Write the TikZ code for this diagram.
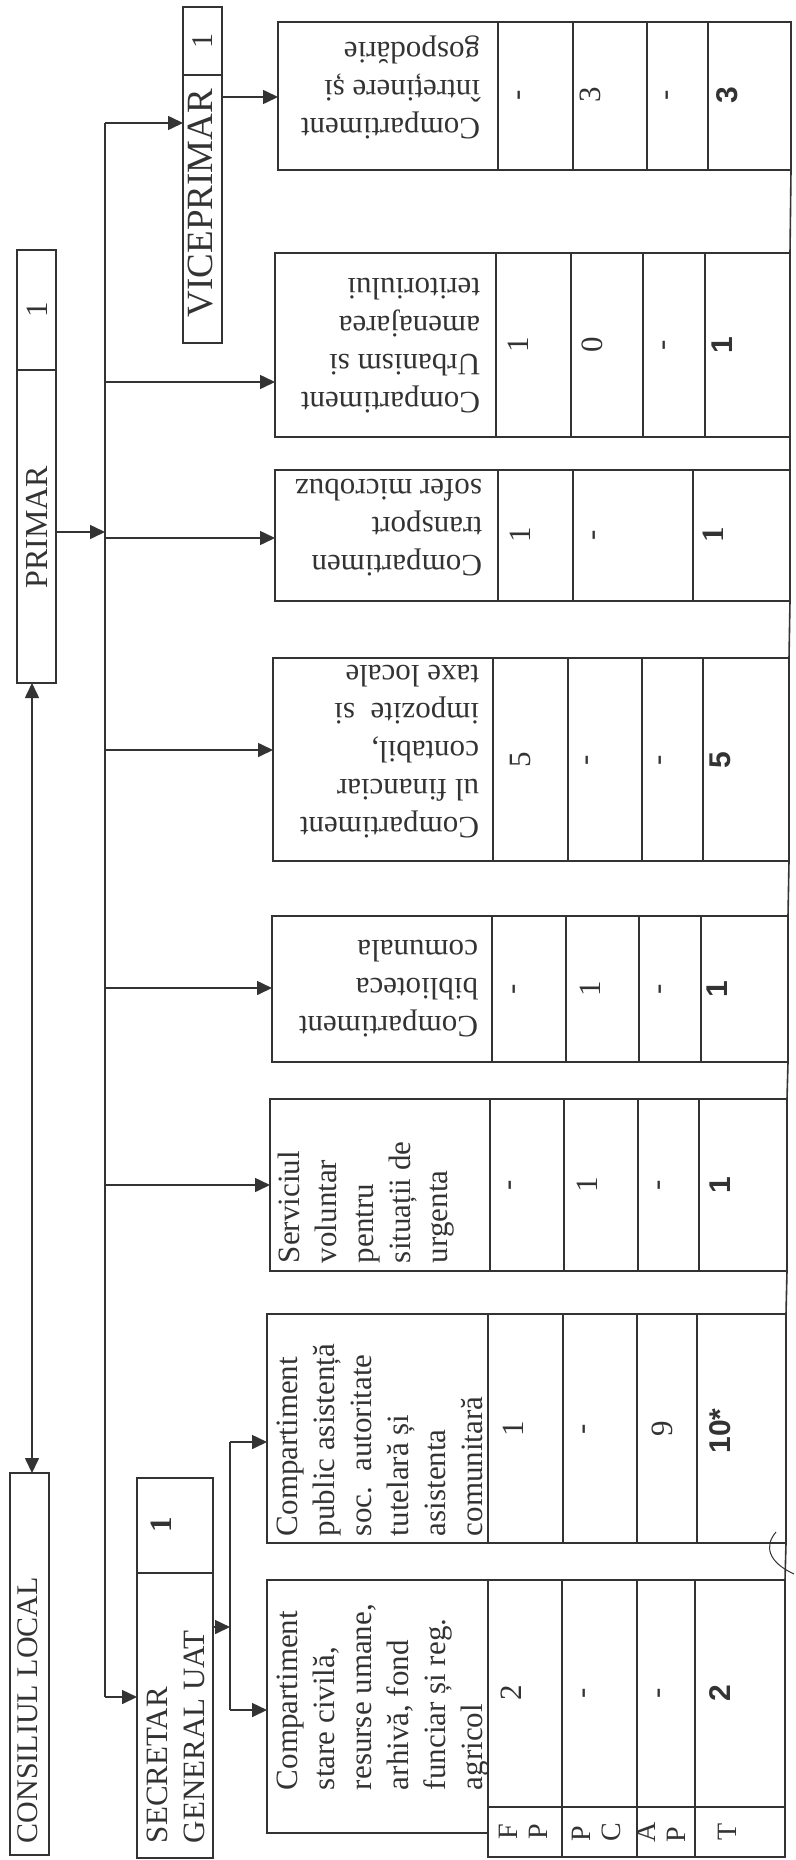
\documentclass[tikz,border=0pt]{standalone}
\usepackage{fontspec}
\setmainfont{Liberation Serif}
\newfontfamily\sansf{Liberation Sans}
\usetikzlibrary{arrows.meta,fit}
\definecolor{ink}{gray}{0.2}
\tikzset{
  ln/.style={draw=ink, line width=1.6pt},
  box/.style={draw=ink, line width=1.6pt, inner sep=0pt, outer sep=0pt},
  arr/.style={draw=ink, line width=1.6pt, -{Triangle[length=15pt,width=14pt]}},
  dblarr/.style={draw=ink, line width=1.6pt, {Triangle[length=15pt,width=14pt]}-{Triangle[length=15pt,width=14pt]}},
  vtxt/.style={rotate=90, anchor=north west, inner sep=0pt, outer sep=0pt, align=left, text=ink, font=\fontsize{31}{37}\selectfont},
  utxt/.style={rotate=180, anchor=north west, inner sep=0pt, outer sep=0pt, align=left, text=ink, font=\fontsize{31}{38}\selectfont},
  lbl/.style={rotate=90, inner sep=0pt, align=left, text=ink, font=\fontsize{28}{30}\selectfont},
  val/.style={rotate=90, inner sep=0pt, text=ink, font=\fontsize{31}{37}\selectfont},
  tot/.style={rotate=90, inner sep=0pt, text=ink, font=\sansf\bfseries\fontsize{30}{36}\selectfont},
}
\begin{document}
\begin{tikzpicture}[x=1pt,y=-1pt]
\fill[white] (0,0) rectangle (795,1860);
\useasboundingbox (0,0) rectangle (795,1860);

% ---------- top-level boxes ----------
\node[box, fit={(10,1473) (49,1855)}] (cl) {};
\node[vtxt, font=\fontsize{30}{36}\selectfont] (clt) at (18,1843) {CONSILIUL LOCAL};

\node[box, fit={(17,250) (56,683)}] (pm) {};
\coordinate (pmd) at (0,370);
\draw[ln] (pm.west |- pmd) -- (pm.east |- pmd);
\node[val] (pm1) at (37,310) {1};
\node[val, font=\fontsize{32}{38}\selectfont] (pmt) at (37,527) {PRIMAR};

\node[box, fit={(183,7) (222,343)}] (vp) {};
\coordinate (vpd) at (0,75);
\draw[ln] (vp.west |- vpd) -- (vp.east |- vpd);
\node[val, font=\fontsize{30}{36}\selectfont] (vp1) at (203,41) {1};
\node[val, font=\fontsize{37}{42}\selectfont] (vpt) at (201,203) {VICEPRIMAR};

\node[box, fit={(137,1478) (213,1858)}] (sg) {};
\coordinate (sgd) at (0,1573);
\draw[ln] (sg.west |- sgd) -- (sg.east |- sgd);
\node[val, font=\bfseries\fontsize{31}{37}\selectfont] (sg1) at (161,1525) {1};
\node[vtxt] (sgt) at (147,1843) {SECRETAR\\GENERAL UAT};

% ---------- band 8 : intretinere ----------
\node[box, fit={(278,22) (498,170)}] (h8) {};
\draw[ln] (498,22) rectangle (791,170);
\draw[ln] (573,22) -- (573,170) (647,22) -- (647,170) (708,22) -- (708,170);
\node[utxt] (t8) at (480,139) {Compartiment\\întreținere și\\gospodărie};
\node[val] (v8a) at (522,95) {-};
\node[val] (v8b) at (590,95) {3};
\node[val] (v8c) at (670,95) {-};
\node[tot] (v8d) at (727,95) {3};

% ---------- band 7 : urbanism ----------
\node[box, fit={(275,253) (496,437)}] (h7) {};
\draw[ln] (496,253) rectangle (790,437);
\draw[ln] (571,253) -- (571,437) (643,253) -- (643,437) (705,253) -- (705,437);
\node[utxt] (t7) at (480,413) {Compartiment\\Urbanism si\\amenajarea\\teritoriului};
\node[val] (v7a) at (518,345) {1};
\node[val] (v7b) at (592,345) {0};
\node[val] (v7c) at (667,345) {-};
\node[tot] (v7d) at (722,345) {1};

% ---------- band 6 : transport ----------
\node[box, fit={(275,470) (498,601)}] (h6) {};
\draw[ln] (498,470) rectangle (790,601);
\draw[ln] (573,470) -- (573,601) (693,470) -- (693,601);
\node[utxt] (t6) at (482,576) {Compartimen\\transport\\sofer microbuz};
\node[val] (v6a) at (520,535) {1};
\node[val] (v6b) at (597,535) {-};
\node[val, font=\bfseries\fontsize{31}{37}\selectfont] (v6d) at (713,535) {1};

% ---------- band 5 : financiar ----------
\node[box, fit={(273,658) (493,861)}] (h5) {};
\draw[ln] (493,658) rectangle (789,861);
\draw[ln] (568,658) -- (568,861) (642,658) -- (642,861) (703,658) -- (703,861);
\node[utxt] (t5) at (479,838) {Compartiment\\ul financiar\\contabil,\\impozite\ \ si\\taxe locale};
\node[val] (v5a) at (520,760) {5};
\node[val] (v5b) at (590,760) {-};
\node[val] (v5c) at (663,760) {-};
\node[tot] (v5d) at (720,760) {5};

% ---------- band 4 : biblioteca ----------
\node[box, fit={(272,916) (492,1062)}] (h4) {};
\draw[ln] (492,916) rectangle (788,1062);
\draw[ln] (566,916) -- (566,1062) (639,916) -- (639,1062) (701,916) -- (701,1062);
\node[utxt] (t4) at (478,1037) {Compartiment\\biblioteca\\comunala};
\node[val] (v4a) at (517,989) {-};
\node[val] (v4b) at (590,989) {1};
\node[val] (v4c) at (663,989) {-};
\node[tot] (v4d) at (717,989) {1};

% ---------- band 3 : serviciul voluntar ----------
\node[box, fit={(270,1099) (490,1271)}] (h3) {};
\draw[ln] (490,1099) rectangle (787,1271);
\draw[ln] (564,1099) -- (564,1271) (638,1099) -- (638,1271) (699,1099) -- (699,1271);
\node[vtxt] (t3) at (278,1263) {Serviciul\\voluntar\\pentru\\situații de\\urgenta};
\node[val] (v3a) at (513,1185) {-};
\node[val] (v3b) at (587,1185) {1};
\node[val] (v3c) at (662,1185) {-};
\node[tot] (v3d) at (720,1185) {1};

% ---------- band 2 : asistenta ----------
\node[box, fit={(267,1314) (488,1543)}] (h2) {};
\draw[ln] (488,1314) rectangle (786,1543);
\draw[ln] (563,1314) -- (563,1543) (637,1314) -- (637,1543) (697,1314) -- (697,1543);
\node[vtxt] (t2) at (277,1536) {Compartiment\\public asistență\\soc.\ \ autoritate\\tutelară și\\asistenta\\comunitară};
\node[val] (v2a) at (513,1429) {1};
\node[val] (v2b) at (587,1429) {-};
\node[val] (v2c) at (662,1429) {9};
\node[tot] (v2d) at (720,1431) {10*};

% ---------- band 1 : stare civila ----------
\node[box, fit={(267,1580) (488,1833)}] (h1) {};
\draw[ln] (488,1580) rectangle (785,1857);
\draw[ln] (488,1807) -- (785,1807);
\draw[ln] (562,1580) -- (562,1857) (637,1580) -- (637,1857) (695,1580) -- (695,1857);
\node[vtxt] (t1) at (277,1790) {Compartiment\\stare civilă,\\resurse umane,\\arhivă,\ fond\\funciar și reg.\\agricol};
\node[val] (v1a) at (511,1693) {2};
\node[val] (v1b) at (587,1693) {-};
\node[val] (v1c) at (662,1693) {-};
\node[tot] (v1d) at (720,1693) {2};
\node[lbl] (r1) at (523,1832) {F\\P};
\node[lbl] (r2) at (596,1832) {P\\C};
\node[lbl] (r3) at (661,1832) {A\\P};
\node[lbl] (r4) at (727,1832) {T};

% long right border through the gaps
\draw[ln] (791,170) -- (790,253) (790,437) -- (790,470) (790,601) -- (789,658)
          (789,861) -- (788,916) (788,1062) -- (787,1099) (787,1271) -- (786,1314)
          (786,1543) -- (785,1580);

% small hand-drawn mark
\draw[ink, line width=1pt] (776,1532) .. controls (764,1546) and (768,1562) .. (794,1574);

% ---------- connectors ----------
\coordinate (cx) at (32,0);
\draw[dblarr] (pm.south -| cx) -- (cl.north -| cx);

\coordinate (busT) at (105,123);
\coordinate (busB) at (105,1697);
\draw[ln] (busT) -- (busB);

\coordinate (j0) at (105,532);
\draw[arr] (pm.east |- j0) -- (j0);

\draw[arr] (busT) -- (busT -| vp.west);
\coordinate (v8) at (222,97);
\draw[arr] (vp.east |- v8) -- (v8 -| h8.west);

\coordinate (j7) at (105,382);
\draw[arr] (j7) -- (j7 -| h7.west);
\coordinate (j6) at (105,538);
\draw[arr] (j6) -- (j6 -| h6.west);
\coordinate (j5) at (105,750);
\draw[arr] (j5) -- (j5 -| h5.west);
\coordinate (j4) at (105,988);
\draw[arr] (j4) -- (j4 -| h4.west);
\coordinate (j3) at (105,1185);
\draw[arr] (j3) -- (j3 -| h3.west);
\draw[arr] (busB) -- (busB -| sg.west);

\coordinate (s0) at (230,1627);
\coordinate (s1) at (230,1442);
\coordinate (s2) at (230,1710);
\draw[arr] (sg.east |- s0) -- (s0);
\draw[ln] (s1) -- (s2);
\draw[arr] (s1) -- (s1 -| h2.west);
\draw[arr] (s2) -- (s2 -| h1.west);
\end{tikzpicture}
\end{document}
